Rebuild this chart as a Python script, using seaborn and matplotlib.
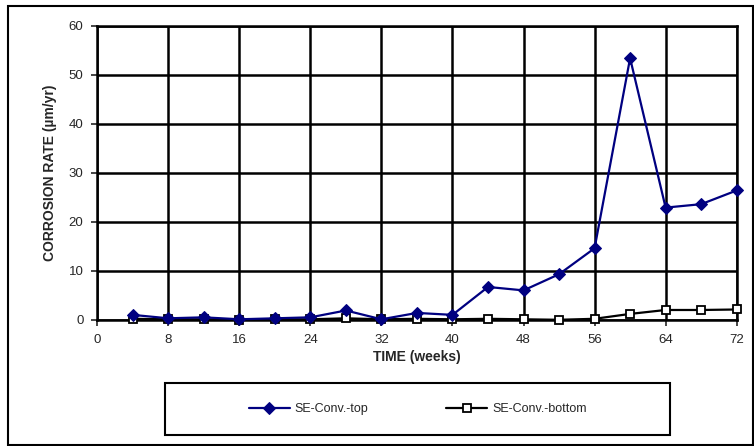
import pandas as pd
import matplotlib.pyplot as plt
import seaborn as sns
from matplotlib.patches import Rectangle

# time in weeks
weeks = [4, 8, 12, 16, 20, 24, 28, 32, 36, 40, 44, 48, 52, 56, 60, 64, 68, 72]
# corrosion rate (um/yr)
se_top = [1.0, 0.3, 0.5, 0.1, 0.3, 0.5, 1.9, 0.1, 1.4, 1.0, 6.7, 6.0, 9.3, 14.6, 53.4, 22.9, 23.6, 26.4]
se_bottom = [0.2, 0.1, 0.1, 0.0, 0.1, 0.1, 0.3, 0.1, 0.2, 0.1, 0.2, 0.1, 0.0, 0.2, 1.2, 2.0, 2.0, 2.1]

x_ticks = [0, 8, 16, 24, 32, 40, 48, 56, 64, 72]
y_ticks = [0, 10, 20, 30, 40, 50, 60]

df = pd.DataFrame({"weeks": weeks, "top": se_top, "bottom": se_bottom})

sns.set_style("white")
plt.rcParams['font.family'] = ['Liberation Sans', 'DejaVu Sans']

fig = plt.figure(figsize=(7.54, 4.46), dpi=100)
ax = fig.add_axes([0.129, 0.283, 0.848, 0.659])

sns.lineplot(data=df, x="weeks", y="top", ax=ax, color="#000080", marker="D",
             markersize=6, markeredgecolor="#000080", linewidth=1.6,
             label="SE-Conv.-top", zorder=4, clip_on=False)
sns.lineplot(data=df, x="weeks", y="bottom", ax=ax, color="black", marker="s",
             markersize=6, markerfacecolor="white", markeredgecolor="black",
             markeredgewidth=1.3, linewidth=1.6, label="SE-Conv.-bottom",
             zorder=3, clip_on=False)

ax.set_xlim(0, 72)
ax.set_ylim(0, 60)
ax.set_xticks(x_ticks)
ax.set_yticks(y_ticks)
ax.grid(True, color="black", linewidth=1.8)
ax.set_axisbelow(True)
for s in ax.spines.values():
    s.set_color("black")
    s.set_linewidth(1.8)
ax.tick_params(axis="both", labelsize=9.5, length=4, width=1.2, direction="out",
               bottom=True, left=True, pad=6)
ax.set_xlabel("TIME (weeks)", fontsize=10, fontweight="bold", labelpad=3)
ax.set_ylabel("CORROSION RATE (µm/yr)", fontsize=10, fontweight="bold", labelpad=8)

handles, labels = ax.get_legend_handles_labels()
ax.get_legend().remove()
leg = fig.legend(handles, labels, loc="center", ncol=2,
                 bbox_to_anchor=(0.554, 0.083), fontsize=9, frameon=False,
                 handlelength=3.3, columnspacing=6.2, handletextpad=0.4)

# legend box and outer chart border
fig.patches.append(Rectangle((0.219, 0.025), 0.670, 0.116, transform=fig.transFigure,
                             fill=False, edgecolor="black", linewidth=1.5))
fig.patches.append(Rectangle((0.011, 0.002), 0.988, 0.985, transform=fig.transFigure,
                             fill=False, edgecolor="black", linewidth=1.5))

fig.savefig("out.png", dpi=100)
